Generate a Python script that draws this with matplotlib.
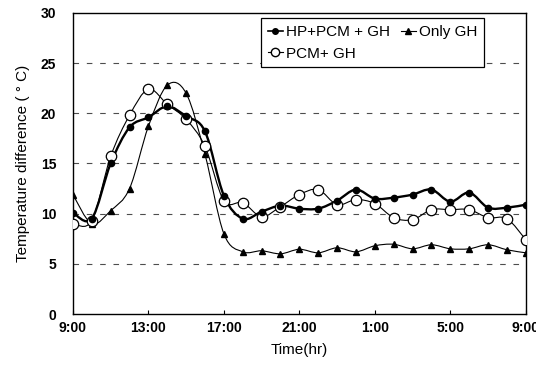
#!/usr/bin/env python3
# Temperature difference over one day (9:00 to 9:00) for three greenhouse setups.
# Lines are smoothed like the original spreadsheet chart (cubic Bezier through points).

import numpy as np
import matplotlib.pyplot as plt
from matplotlib.path import Path
from matplotlib.patches import PathPatch
from matplotlib.lines import Line2D

plt.rcParams['font.family'] = ['Liberation Sans', 'DejaVu Sans']

# hours after 9:00
hours = list(range(25))
tick_pos = [0, 4, 8, 12, 16, 20, 24]
tick_labels = ['9:00', '13:00', '17:00', '21:00', '1:00', '5:00', '9:00']

hp_pcm_gh = [10.1, 9.5, 15.0, 18.6, 19.6, 20.7, 19.7, 18.2, 11.8, 9.5, 10.2, 10.8,
             10.5, 10.5, 11.3, 12.4, 11.5, 11.6, 11.9, 12.4, 11.2, 12.1, 10.6, 10.6, 10.9]
pcm_gh = [9.0, 9.3, 15.7, 19.8, 22.4, 20.9, 19.4, 16.7, 11.3, 11.1, 9.7, 10.7,
          11.9, 12.4, 10.9, 11.4, 11.0, 9.6, 9.4, 10.4, 10.4, 10.4, 9.6, 9.5, 7.4]
only_gh = [11.9, 9.0, 10.3, 12.5, 18.7, 22.8, 22.0, 15.9, 8.0, 6.2, 6.3, 6.0,
           6.45, 6.1, 6.6, 6.2, 6.8, 6.95, 6.5, 6.9, 6.5, 6.5, 6.9, 6.4, 6.1]


def smooth_path(x, y):
    # Catmull-Rom style Bezier control points, as spreadsheet "smoothed line"
    p = np.column_stack([x, y]).astype(float)
    verts = [p[0]]
    codes = [Path.MOVETO]
    n = len(p)
    for i in range(n - 1):
        p0 = p[i - 1] if i > 0 else p[i]
        p3 = p[i + 2] if i + 2 < n else p[i + 1]
        c1 = p[i] + (p[i + 1] - p0) / 6.0
        c2 = p[i + 1] - (p3 - p[i]) / 6.0
        verts += [c1, c2, p[i + 1]]
        codes += [Path.CURVE4] * 3
    return Path(verts, codes)


fig = plt.figure(figsize=(5.36, 3.67), dpi=100)
ax = fig.add_axes([0.136, 0.1444, 0.845, 0.8202])

for yv in [5, 10, 15, 20, 25]:
    ax.axhline(yv, color='0.3', lw=0.8, ls=(0, (5, 7)), zorder=1)

ax.add_patch(PathPatch(smooth_path(hours, only_gh), fill=False, lw=0.8,
                       edgecolor='black', zorder=2))
ax.add_patch(PathPatch(smooth_path(hours, pcm_gh), fill=False, lw=0.8,
                       edgecolor='black', zorder=2))
ax.add_patch(PathPatch(smooth_path(hours, hp_pcm_gh), fill=False, lw=1.7,
                       edgecolor='black', zorder=3))

ax.plot(hours, only_gh, ls='none', marker='^', ms=5, color='black', zorder=4)
ax.plot(hours, pcm_gh, ls='none', marker='o', ms=7.5, mfc='white', mec='black',
        mew=0.9, zorder=4)
ax.plot(hours, hp_pcm_gh, ls='none', marker='o', ms=4.5, color='black', zorder=5)

ax.set_xlim(0, 24)
ax.set_ylim(0, 30)
ax.set_xticks(tick_pos)
ax.set_xticklabels(tick_labels)
ax.set_yticks([0, 5, 10, 15, 20, 25, 30])
ax.tick_params(axis='x', direction='in', length=3, labelsize=10, pad=5)
ax.tick_params(axis='y', length=0, labelsize=10, pad=12)
for lab in ax.get_xticklabels() + ax.get_yticklabels():
    lab.set_fontweight('bold')
for sp in ax.spines.values():
    sp.set_linewidth(1.0)

ax.set_xlabel('Time(hr)', fontsize=11, labelpad=6)
ax.set_ylabel('Temperature difference ( ° C)', fontsize=11, labelpad=8)

handles = [
    Line2D([], [], color='black', lw=1.2, marker='o', ms=4),
    Line2D([], [], color='black', lw=0.8, marker='o', ms=6, mfc='white'),
    Line2D([], [], color='black', lw=0.8, marker='^', ms=4.5),
]
labels = ['HP+PCM + GH', 'PCM+ GH', 'Only GH']
leg = ax.legend(handles, labels, ncol=2, loc='upper left',
                bbox_to_anchor=(0.415, 0.983), borderaxespad=0,
                fontsize=11, handlelength=1.0, handletextpad=0.2,
                columnspacing=0.7, labelspacing=0.5, borderpad=0.45,
                fancybox=False, framealpha=1)
leg.get_frame().set_edgecolor('black')
leg.get_frame().set_linewidth(0.9)

fig.savefig('out.png', dpi=100)
